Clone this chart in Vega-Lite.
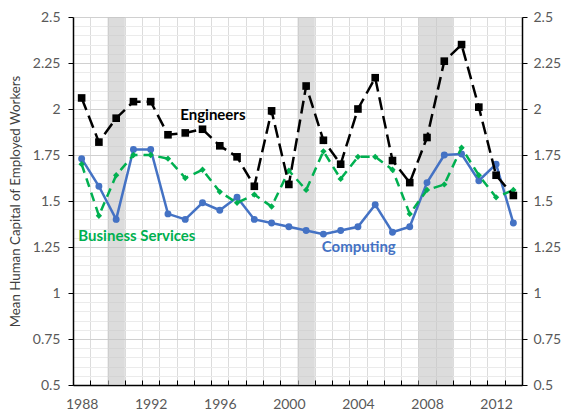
{
  "$schema": "https://vega.github.io/schema/vega-lite/v6.json",
  "width": 449,
  "height": 368,
  "autosize": "none",
  "padding": {"left": 73, "top": 17, "right": 49, "bottom": 31},
  "background": "white",
  "config": {
    "view": {"stroke": null},
    "font": "Lato",
    "axis": {"labelFont": "Lato", "titleFont": "Lato"}
  },
  "datasets": {
    "series": [
      {"year": 1988, "series": "Engineers", "value": 2.06},
      {"year": 1989, "series": "Engineers", "value": 1.82},
      {"year": 1990, "series": "Engineers", "value": 1.95},
      {"year": 1991, "series": "Engineers", "value": 2.04},
      {"year": 1992, "series": "Engineers", "value": 2.04},
      {"year": 1993, "series": "Engineers", "value": 1.86},
      {"year": 1994, "series": "Engineers", "value": 1.87},
      {"year": 1995, "series": "Engineers", "value": 1.89},
      {"year": 1996, "series": "Engineers", "value": 1.80},
      {"year": 1997, "series": "Engineers", "value": 1.74},
      {"year": 1998, "series": "Engineers", "value": 1.58},
      {"year": 1999, "series": "Engineers", "value": 1.99},
      {"year": 2000, "series": "Engineers", "value": 1.59},
      {"year": 2001, "series": "Engineers", "value": 2.125},
      {"year": 2002, "series": "Engineers", "value": 1.83},
      {"year": 2003, "series": "Engineers", "value": 1.70},
      {"year": 2004, "series": "Engineers", "value": 2.00},
      {"year": 2005, "series": "Engineers", "value": 2.17},
      {"year": 2006, "series": "Engineers", "value": 1.72},
      {"year": 2007, "series": "Engineers", "value": 1.60},
      {"year": 2008, "series": "Engineers", "value": 1.845},
      {"year": 2009, "series": "Engineers", "value": 2.26},
      {"year": 2010, "series": "Engineers", "value": 2.35},
      {"year": 2011, "series": "Engineers", "value": 2.01},
      {"year": 2012, "series": "Engineers", "value": 1.64},
      {"year": 2013, "series": "Engineers", "value": 1.53},
      {"year": 1988, "series": "Computing", "value": 1.73},
      {"year": 1989, "series": "Computing", "value": 1.58},
      {"year": 1990, "series": "Computing", "value": 1.40},
      {"year": 1991, "series": "Computing", "value": 1.78},
      {"year": 1992, "series": "Computing", "value": 1.78},
      {"year": 1993, "series": "Computing", "value": 1.43},
      {"year": 1994, "series": "Computing", "value": 1.40},
      {"year": 1995, "series": "Computing", "value": 1.49},
      {"year": 1996, "series": "Computing", "value": 1.45},
      {"year": 1997, "series": "Computing", "value": 1.52},
      {"year": 1998, "series": "Computing", "value": 1.40},
      {"year": 1999, "series": "Computing", "value": 1.38},
      {"year": 2000, "series": "Computing", "value": 1.36},
      {"year": 2001, "series": "Computing", "value": 1.34},
      {"year": 2002, "series": "Computing", "value": 1.32},
      {"year": 2003, "series": "Computing", "value": 1.34},
      {"year": 2004, "series": "Computing", "value": 1.36},
      {"year": 2005, "series": "Computing", "value": 1.48},
      {"year": 2006, "series": "Computing", "value": 1.33},
      {"year": 2007, "series": "Computing", "value": 1.36},
      {"year": 2008, "series": "Computing", "value": 1.60},
      {"year": 2009, "series": "Computing", "value": 1.75},
      {"year": 2010, "series": "Computing", "value": 1.755},
      {"year": 2011, "series": "Computing", "value": 1.61},
      {"year": 2012, "series": "Computing", "value": 1.70},
      {"year": 2013, "series": "Computing", "value": 1.38},
      {"year": 1988, "series": "Business Services", "value": 1.70},
      {"year": 1989, "series": "Business Services", "value": 1.42},
      {"year": 1990, "series": "Business Services", "value": 1.64},
      {"year": 1991, "series": "Business Services", "value": 1.75},
      {"year": 1992, "series": "Business Services", "value": 1.75},
      {"year": 1993, "series": "Business Services", "value": 1.73},
      {"year": 1994, "series": "Business Services", "value": 1.625},
      {"year": 1995, "series": "Business Services", "value": 1.67},
      {"year": 1996, "series": "Business Services", "value": 1.55},
      {"year": 1997, "series": "Business Services", "value": 1.49},
      {"year": 1998, "series": "Business Services", "value": 1.535},
      {"year": 1999, "series": "Business Services", "value": 1.47},
      {"year": 2000, "series": "Business Services", "value": 1.665},
      {"year": 2001, "series": "Business Services", "value": 1.56},
      {"year": 2002, "series": "Business Services", "value": 1.77},
      {"year": 2003, "series": "Business Services", "value": 1.62},
      {"year": 2004, "series": "Business Services", "value": 1.74},
      {"year": 2005, "series": "Business Services", "value": 1.74},
      {"year": 2006, "series": "Business Services", "value": 1.67},
      {"year": 2007, "series": "Business Services", "value": 1.43},
      {"year": 2008, "series": "Business Services", "value": 1.56},
      {"year": 2009, "series": "Business Services", "value": 1.59},
      {"year": 2010, "series": "Business Services", "value": 1.79},
      {"year": 2011, "series": "Business Services", "value": 1.64},
      {"year": 2012, "series": "Business Services", "value": 1.52},
      {"year": 2013, "series": "Business Services", "value": 1.56}
    ],
    "recessions": [
      {"start": 1989.5, "end": 1990.5},
      {"start": 2000.5, "end": 2001.5},
      {"start": 2007.5, "end": 2009.5}
    ],
    "labels": [
      {"series": "Engineers", "year": 1995.6, "value": 1.97},
      {"series": "Business Services", "year": 1991.2, "value": 1.308},
      {"series": "Computing", "year": 2004.05, "value": 1.249}
    ]
  },
  "resolve": {
    "scale": {"x": "shared", "y": "shared", "color": "shared"},
    "axis": {"x": "independent", "y": "independent"}
  },
  "layer": [
    {
      "data": {"name": "recessions"},
      "mark": {"type": "rect", "fill": "#c4c4c4", "opacity": 0.6},
      "encoding": {
        "x": {"field": "start", "type": "quantitative",
              "scale": {"domain": [1987.5, 2013.5], "nice": false, "zero": false},
              "axis": {"orient": "bottom", "values": [1987.5,1988.5,1989.5,1990.5,1991.5,1992.5,1993.5,1994.5,1995.5,1996.5,1997.5,1998.5,1999.5,2000.5,2001.5,2002.5,2003.5,2004.5,2005.5,2006.5,2007.5,2008.5,2009.5,2010.5,2011.5,2012.5,2013.5],
                       "labels": false, "domain": false, "ticks": true, "tickSize": -5, "tickColor": "#000000", "tickWidth": 1,
                       "grid": true, "gridColor": "#dcdcdc", "gridWidth": 1, "title": null}},
        "x2": {"field": "end"}
      }
    },
    {
      "data": {"name": "series"},
      "transform": [{"filter": "datum.series === 'Computing'"}],
      "mark": {"type": "line", "color": "#4472C4", "strokeWidth": 2.5,
               "point": {"shape": "circle", "size": 48, "filled": true, "color": "#4472C4", "opacity": 1}},
      "encoding": {
        "x": {"field": "year", "type": "quantitative",
              "axis": {"orient": "bottom", "values": [1988,1992,1996,2000,2004,2008,2012], "format": "d",
                       "ticks": false, "grid": false, "domain": true, "domainColor": "#000000", "domainWidth": 1.5,
                       "labelFontSize": 14, "labelColor": "#595959", "labelPadding": 12, "title": null}},
        "y": {"field": "value", "type": "quantitative",
              "scale": {"domain": [0.5, 2.5], "nice": false, "zero": false},
              "axis": {"orient": "left", "values": [0.5,0.75,1,1.25,1.5,1.75,2,2.25,2.5], "labelExpr": "datum.value + ''",
                       "grid": true, "gridColor": "#d0d0d0", "gridWidth": 1,
                       "domain": true, "domainColor": "#000000", "domainWidth": 1.5,
                       "ticks": true, "tickSize": 5, "tickColor": "#000000",
                       "labelFontSize": 14, "labelColor": "#595959", "labelPadding": 8,
                       "title": "Mean Human Capital of Employed Workers", "titleFontSize": 13.3,
                       "titleFontWeight": "normal", "titleColor": "#404040", "titlePadding": 10}}
      }
    },
    {
      "data": {"name": "series"},
      "transform": [{"filter": "datum.series === 'Business Services'"}],
      "mark": {"type": "line", "color": "#00B050", "strokeWidth": 2.5, "strokeDash": [9, 6],
               "point": {"shape": "diamond", "size": 40, "filled": true, "color": "#00B050", "opacity": 1}},
      "encoding": {
        "x": {"field": "year", "type": "quantitative", "axis": null},
        "y": {"field": "value", "type": "quantitative",
              "axis": {"orient": "left", "values": [0.55,0.6,0.65,0.7,0.8,0.85,0.9,0.95,1.05,1.1,1.15,1.2,1.3,1.35,1.4,1.45,1.55,1.6,1.65,1.7,1.8,1.85,1.9,1.95,2.05,2.1,2.15,2.2,2.3,2.35,2.4,2.45],
                       "grid": true, "gridColor": "#ebebeb", "gridWidth": 1,
                       "domain": false, "ticks": false, "labels": false, "title": null}}
      }
    },
    {
      "data": {"name": "series"},
      "transform": [{"filter": "datum.series === 'Engineers'"}],
      "mark": {"type": "line", "color": "#000000", "strokeWidth": 2.5, "strokeDash": [13, 6],
               "point": {"shape": "square", "size": 58, "filled": true, "color": "#000000", "opacity": 1}},
      "encoding": {
        "x": {"field": "year", "type": "quantitative", "axis": null},
        "y": {"field": "value", "type": "quantitative",
              "axis": {"orient": "right", "values": [0.5,0.75,1,1.25,1.5,1.75,2,2.25,2.5], "labelExpr": "datum.value + ''",
                       "grid": false, "domain": true, "domainColor": "#000000", "domainWidth": 1.5,
                       "ticks": true, "tickSize": 5, "tickColor": "#000000",
                       "labelFontSize": 14, "labelColor": "#595959", "labelPadding": 6, "title": null}}
      }
    },
    {
      "data": {"name": "labels"},
      "mark": {"type": "text", "fontWeight": "bold", "fontSize": 15, "align": "center", "baseline": "middle", "font": "Lato"},
      "encoding": {
        "x": {"field": "year", "type": "quantitative", "axis": null},
        "y": {"field": "value", "type": "quantitative", "axis": null},
        "text": {"field": "series"},
        "color": {"field": "series", "type": "nominal", "legend": null,
                  "scale": {"domain": ["Engineers", "Business Services", "Computing"], "range": ["#000000", "#00B050", "#4472C4"]}}
      }
    }
  ]
}
